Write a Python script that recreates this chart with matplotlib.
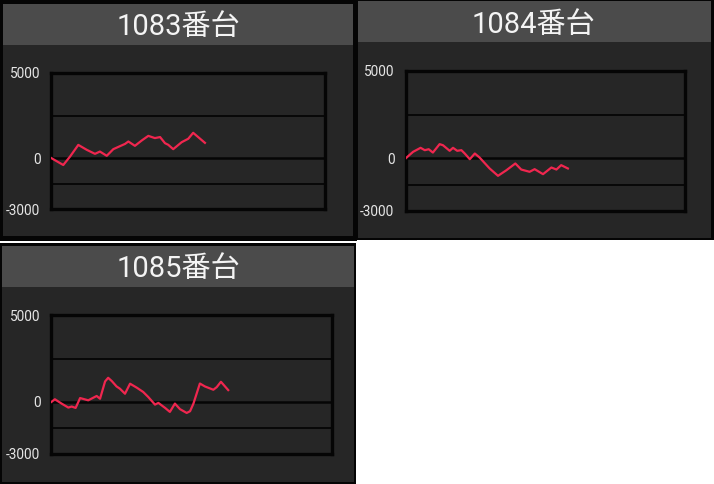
import matplotlib
matplotlib.use("Agg")
import matplotlib.pyplot as plt
from matplotlib.patches import Rectangle

plt.rcParams['font.family'] = ['Roboto', 'Noto Sans CJK JP', 'DejaVu Sans']

W, H = 714, 484

titles = ["1083番台", "1084番台", "1085番台"]
y_ticks = [5000, 0, -3000]
y_tick_labels = ["5000", "0", "-3000"]
grid_vals = [2500, -1500]

x1083 = [0, 4.3, 6.8, 9.8, 12.9, 15.9, 17.7, 20.2, 22.6, 26.9, 28.1, 30.5, 33.0, 35.4,
         37.8, 39.7, 41.5, 42.7, 44.5, 47.6, 50.0, 51.8, 56.1]
y1083 = [0, -400, 100, 780, 490, 255, 390, 140, 530, 840, 980, 725, 1040, 1310,
         1180, 1240, 880, 785, 530, 940, 1140, 1490, 900]

x1084 = [0, 2.7, 5.4, 6.9, 8.3, 9.8, 12.2, 13.4, 15.8, 17.0, 18.5, 20.0, 21.2, 23.0,
         24.8, 26.5, 30.1, 33.1, 36.1, 39.3, 41.4, 44.4, 46.2, 49.2, 52.2, 54.0, 55.7, 58.1]
y1084 = [0, 380, 610, 475, 530, 340, 820, 760, 440, 610, 440, 475, 285, -40,
         285, 57, -570, -990, -670, -285, -630, -760, -610, -895, -515, -630, -380, -570]

x1085 = [0, 1.2, 3.6, 6.0, 7.2, 8.6, 10.2, 13.1, 16.1, 17.3, 19.1, 20.2, 21.5, 23.2,
         24.4, 26.2, 28.0, 30.4, 32.7, 34.5, 36.9, 38.1, 40.5, 42.2, 44.0, 45.8, 48.2,
         49.4, 50.6, 52.9, 54.7, 57.7, 58.9, 60.4, 63.0]
y1085 = [0, 150, -100, -330, -270, -350, 220, 90, 340, 180, 1180, 1390, 1200, 890,
         760, 470, 1050, 820, 570, 280, -160, -60, -350, -580, -100, -420, -640,
         -540, -100, 1060, 890, 700, 850, 1160, 680]

series = [(x1083, y1083), (x1084, y1084), (x1085, y1085)]

# panel layout in pixels: (outer box, header box, body box, title center, axes box)
panels = [
    dict(outer=(0, 0, 357, 241), header=(3, 4, 353, 45), body=(3, 45, 353, 236),
         title=(178, 27), ax=(51.5, 73, 325, 209.3)),
    dict(outer=(357, 0, 714, 240), header=(358, 1, 711, 42), body=(358, 42, 711, 238),
         title=(533, 25), ax=(405.5, 71, 685, 211)),
    dict(outer=(0, 243, 356, 484), header=(2, 246, 354, 287), body=(2, 287, 354, 482),
         title=(178, 269), ax=(51.5, 315.3, 332, 453.8)),
]

fig = plt.figure(figsize=(W / 100, H / 100), dpi=100)
fig.patch.set_facecolor("white")
bg = fig.add_axes([0, 0, 1, 1])
bg.set_xlim(0, W)
bg.set_ylim(H, 0)
bg.axis("off")

def rect(ax, box, color):
    x0, y0, x1, y1 = box
    ax.add_patch(Rectangle((x0, y0), x1 - x0, y1 - y0, facecolor=color, edgecolor="none"))

line_color = "#f0264f"

for p, title, (xs, ys) in zip(panels, titles, series):
    rect(bg, p["outer"], "#050505")
    rect(bg, p["header"], "#4b4b4b")
    rect(bg, p["body"], "#262626")
    bg.text(p["title"][0], p["title"][1], title, color="#f4f4f4", fontsize=21,
            ha="center", va="center")
    x0, y0, x1, y1 = p["ax"]
    ax = fig.add_axes([x0 / W, 1 - y1 / H, (x1 - x0) / W, (y1 - y0) / H])
    ax.set_facecolor("#262626")
    ax.set_xlim(0, 100)
    ax.set_ylim(-3000, 5000)
    for g in grid_vals:
        ax.axhline(g, color="#050505", lw=1.3, zorder=1)
    ax.axhline(0, color="#050505", lw=1.8, zorder=1)
    ax.plot(xs, ys, color=line_color, lw=1.6, zorder=3, solid_joinstyle="round")
    for s in ax.spines.values():
        s.set_color("#050505")
        s.set_linewidth(2.4)
    ax.set_xticks([])
    ax.set_yticks(y_ticks)
    ax.set_yticklabels(y_tick_labels)
    ax.tick_params(axis="y", length=0, pad=8, labelsize=9.8, labelcolor="#e6e6e6")

fig.savefig("out.png", dpi=100, facecolor="white")
